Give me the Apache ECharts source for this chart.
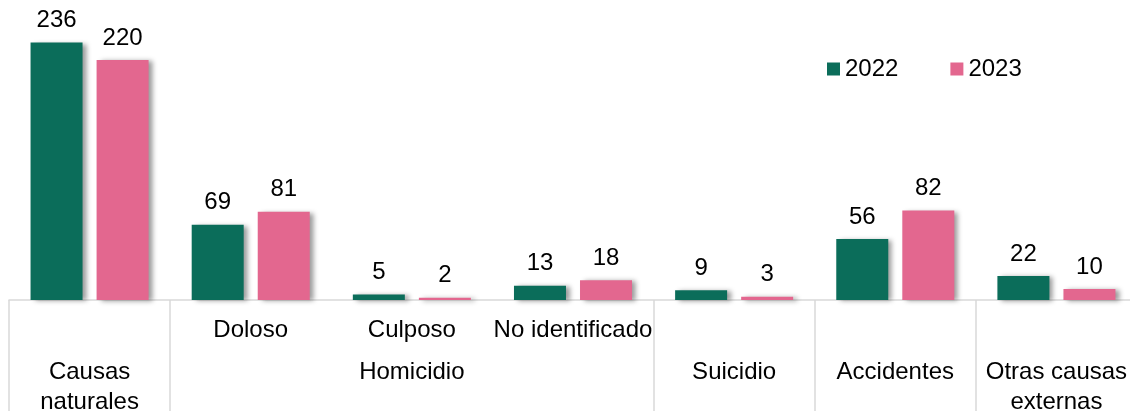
<!DOCTYPE html>
<html>
<head>
<meta charset="utf-8">
<script src="https://cdn.jsdelivr.net/npm/echarts@6/dist/echarts.min.js"></script>
<style>
html,body{margin:0;padding:0;background:#fff;overflow:hidden;}
#chart{width:1130px;height:411px;}
</style>
</head>
<body>
<div id="chart"></div>
<script>
const categories = ['Causas naturales', 'Doloso', 'Culposo', 'No identificado', 'Suicidio', 'Accidentes', 'Otras causas externas'];
const subLabels = ['', 'Doloso', 'Culposo', 'No identificado', '', '', ''];
const groupLabels = ['Causas\nnaturales', '', 'Homicidio', '', 'Suicidio', 'Accidentes', 'Otras causas\nexternas'];
const seriesNames = ['2022', '2023'];
const values2022 = [236, 69, 5, 13, 9, 56, 22];
const values2023 = [220, 81, 2, 18, 3, 82, 10];
const separatorBefore = [0, 1, 4, 5, 6, 7];

const FONT = 'Liberation Sans, Arial, sans-serif';
const FS = 24;
const chart = echarts.init(document.getElementById('chart'));

chart.setOption({
  animation: false,
  textStyle: { fontFamily: FONT },
  legend: {
    data: seriesNames,
    left: 822, top: 52,
    itemWidth: 13, itemHeight: 13, itemGap: 52,
    icon: 'rect',
    textStyle: { fontSize: FS, color: '#000', fontFamily: FONT }
  },
  grid: { left: 9, width: 1128, top: 0, height: 300, containLabel: false, outerBoundsMode: 'none' },
  xAxis: [
    {
      type: 'category', data: categories, position: 'bottom',
      axisLine: { show: true, lineStyle: { color: '#d9d9d9', width: 1.5 } },
      axisTick: {
        show: true, length: 120,
        interval: function (index) { return separatorBefore.indexOf(index) >= 0; },
        lineStyle: { color: '#d9d9d9', width: 1.5 }
      },
      axisLabel: {
        interval: 0, margin: 15, fontSize: FS, lineHeight: 30, color: '#000', fontFamily: FONT,
        formatter: function (v, i) { return subLabels[i]; }
      }
    },
    {
      type: 'category', data: categories, position: 'bottom', gridIndex: 0,
      axisLine: { show: false }, axisTick: { show: false },
      axisLabel: {
        interval: 0, margin: 57, fontSize: FS, lineHeight: 30, color: '#000', fontFamily: FONT,
        formatter: function (v, i) { return groupLabels[i]; }
      }
    }
  ],
  yAxis: { type: 'value', min: 0, max: 275, show: false, splitLine: { show: false } },
  series: [
    {
      name: seriesNames[0], type: 'bar', data: values2022, xAxisIndex: 0,
      barWidth: 52, barGap: '27%',
      itemStyle: { color: '#0b6d5a', shadowColor: 'rgba(0,0,0,0.4)', shadowBlur: 5, shadowOffsetX: 4, shadowOffsetY: 1 },
      label: { show: true, position: 'top', distance: 10, fontSize: FS, color: '#000', fontFamily: FONT }
    },
    {
      name: seriesNames[1], type: 'bar', data: values2023, xAxisIndex: 0,
      barWidth: 52, barGap: '27%',
      itemStyle: { color: '#e3678f', shadowColor: 'rgba(0,0,0,0.4)', shadowBlur: 5, shadowOffsetX: 4, shadowOffsetY: 1 },
      label: { show: true, position: 'top', distance: 10, fontSize: FS, color: '#000', fontFamily: FONT }
    }
  ]
});
</script>
</body>
</html>
